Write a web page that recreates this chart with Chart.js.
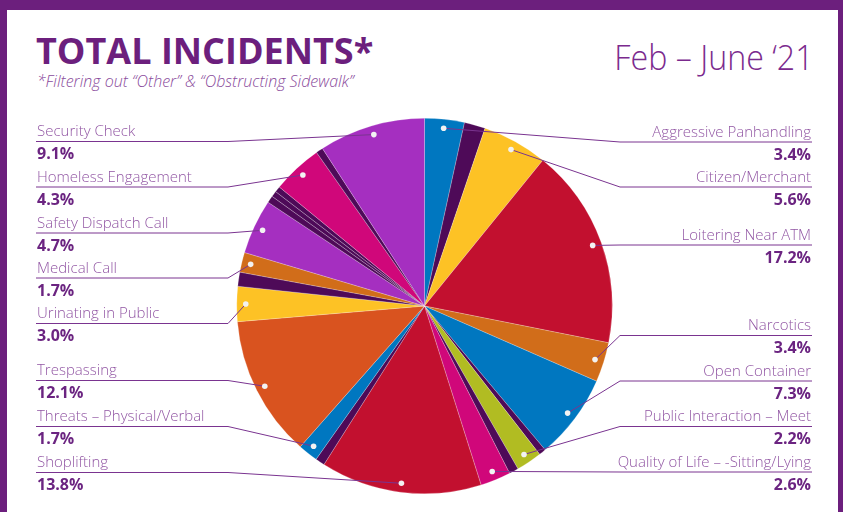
<!DOCTYPE html>
<html>
<head>
<meta charset="utf-8">
<script src="https://cdn.jsdelivr.net/npm/chart.js@4"></script>
<style>
  body { margin: 0; }
  #page { position: relative; width: 843px; height: 512px; background: #6c1f7d; overflow: hidden; font-family: "Open Sans", sans-serif; }
  #sheet { position: absolute; left: 7px; top: 10px; width: 831px; height: 502px; background: #fff; }
  #chart { position: absolute; left: 0; top: 0; }
  .head { position: absolute; white-space: nowrap; color: #6c1f7d; }
  #title { left: 36px; top: 33px; font-size: 36px; line-height: 36px; font-weight: 700; }
  #sub { left: 37px; top: 73px; font-size: 16px; line-height: 16px; font-weight: 300; font-style: italic; color: #8a4b9c; }
  #date { right: 29px; top: 39px; font-size: 35px; line-height: 35px; font-weight: 300; color: #7b2a8e;
          transform: scaleX(0.92); transform-origin: right center; }
</style>
</head>
<body>
<div id="page">
  <div id="sheet"></div>
  <div class="head" id="title">TOTAL INCIDENTS*</div>
  <div class="head" id="sub">*Filtering out “Other” &amp; “Obstructing Sidewalk”</div>
  <div class="head" id="date">Feb – June ‘21</div>
  <canvas id="chart" width="843" height="512"></canvas>
</div>
<script>
// incident types, clockwise from 12 o'clock (blank = small unlabelled slice)
var categories = [
  "Aggressive Panhandling", "", "Citizen/Merchant", "Loitering Near ATM",
  "Narcotics", "Open Container", "", "Public Interaction – Meet", "",
  "Quality of Life – -Sitting/Lying", "Shoplifting", "", "Threats – Physical/Verbal",
  "Trespassing", "Urinating in Public", "", "Medical Call", "Safety Dispatch Call",
  "", "", "", "Homeless Engagement", "", "Security Check"
];
// share of incidents, %
var shares = [
  3.4, 1.8, 5.6, 17.2,
  3.4, 7.3, 0.6, 2.2, 0.8,
  2.6, 13.8, 0.8, 1.7,
  12.1, 3.0, 1.2, 1.7, 4.7,
  0.6, 0.5, 0.5, 4.3, 0.6, 9.1
];

var BLUE = '#0077c0', DARK = '#4e0a58', YELLOW = '#fdc225', RED = '#c2102f',
    ORANGE = '#d16d1a', LIME = '#b1bc22', MAGENTA = '#d0077a', RUST = '#d9531f', PURPLE = '#a52fc0';
var sliceColors = [
  BLUE, DARK, YELLOW, RED,
  ORANGE, BLUE, DARK, LIME, DARK,
  MAGENTA, RED, DARK, BLUE,
  RUST, YELLOW, DARK, ORANGE, PURPLE,
  DARK, DARK, DARK, MAGENTA, DARK, PURPLE
];

// where each callout sits: side of the page and baseline of the name
var callouts = {
  0:  { side: 'right', y: 136.5 },
  2:  { side: 'right', y: 181.5 },
  3:  { side: 'right', y: 239.5 },
  4:  { side: 'right', y: 330 },
  5:  { side: 'right', y: 375.5 },
  7:  { side: 'right', y: 421 },
  9:  { side: 'right', y: 466.5 },
  10: { side: 'left', y: 467 },
  12: { side: 'left', y: 421 },
  13: { side: 'left', y: 375 },
  14: { side: 'left', y: 318 },
  16: { side: 'left', y: 272.5 },
  17: { side: 'left', y: 227.5 },
  21: { side: 'left', y: 181.5 },
  23: { side: 'left', y: 136 }
};

var calloutPlugin = {
  id: 'callouts',
  afterDatasetsDraw: function(chart) {
    var ctx = chart.ctx;
    var meta = chart.getDatasetMeta(0);
    var values = chart.data.datasets[0].data;
    ctx.save();
    Object.keys(callouts).forEach(function(k) {
      var i = +k, c = callouts[k];
      var arc = meta.data[i];
      var mid = (arc.startAngle + arc.endAngle) / 2;
      var r = arc.outerRadius - 9;
      var dx = arc.x + r * Math.cos(mid), dy = arc.y + r * Math.sin(mid);
      var lineY = c.y + 5.5;
      var left = c.side === 'left';
      var textX = left ? 37 : 811;
      var endX = left ? 36 : 812;
      var elbowX = left ? 228 : 620;

      ctx.strokeStyle = '#7a3490';
      ctx.lineWidth = 1;
      ctx.beginPath();
      ctx.moveTo(endX, lineY);
      ctx.lineTo(elbowX, lineY);
      ctx.lineTo(dx, dy);
      ctx.stroke();

      ctx.fillStyle = '#f2f2f2';
      ctx.beginPath();
      ctx.arc(dx, dy, 2.8, 0, Math.PI * 2);
      ctx.fill();

      ctx.textAlign = left ? 'left' : 'right';
      ctx.textBaseline = 'alphabetic';
      ctx.fillStyle = '#9257a4';
      ctx.font = '300 15px "Open Sans"';
      ctx.fillText(categories[i], textX, c.y);
      ctx.fillStyle = '#6b2481';
      ctx.font = '700 16px "Open Sans"';
      ctx.fillText(values[i].toFixed(1) + '%', textX, c.y + 23.3);
    });
    ctx.restore();
  }
};

new Chart(document.getElementById('chart'), {
  type: 'pie',
  data: {
    labels: categories,
    datasets: [{
      data: shares,
      backgroundColor: sliceColors,
      borderColor: 'rgba(255,255,255,0.45)',
      borderWidth: 0.5,
      hoverOffset: 0
    }]
  },
  options: {
    responsive: false,
    animation: false,
    events: [],
    layout: { padding: { top: 118, bottom: 18, left: 6, right: 0 } },
    plugins: {
      legend: { display: false },
      tooltip: { enabled: false }
    }
  },
  plugins: [calloutPlugin]
});
</script>
</body>
</html>
